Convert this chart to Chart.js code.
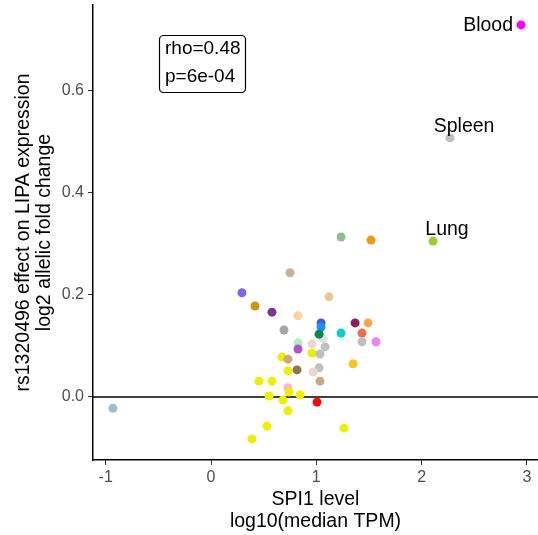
<!DOCTYPE html>
<html>
<head>
<meta charset="utf-8">
<script src="https://cdn.jsdelivr.net/npm/chart.js@4.4.1/dist/chart.umd.min.js"></script>
<style>
  html, body { margin: 0; padding: 0; background: #fff; }
  canvas { display: block; }
</style>
</head>
<body>
<canvas id="spiChart" width="538" height="535"></canvas>
<script>
// SPI1 level (log10 median TPM) per tissue
const spiLevel = [
  2.944, 2.270, 2.108, 1.235, 1.519, 0.750, 0.294, 0.418, 0.579, 1.121,
  0.826, 0.693, 1.045, 1.045, 1.064, 1.026, 1.235, 1.368, 1.491, 1.434,
  1.434, 1.567, 0.826, 0.826, 0.959, 1.083, 0.959, 1.035, 0.674, 0.731,
  0.731, 0.817, 1.026, 0.969, 1.349, 1.035, 0.456, 0.579, 0.731, 0.741,
  0.551, 0.845, 0.684, 1.007, 0.731, 0.532, 0.389, 1.263, -0.931
];
// rs1320496 effect (log2 allelic fold change)
const alleleEffect = [
  0.728, 0.507, 0.305, 0.313, 0.307, 0.243, 0.204, 0.178, 0.166, 0.196,
  0.159, 0.131, 0.145, 0.137, 0.115, 0.123, 0.125, 0.145, 0.145, 0.125,
  0.108, 0.108, 0.106, 0.094, 0.104, 0.098, 0.086, 0.084, 0.078, 0.074,
  0.051, 0.053, 0.057, 0.049, 0.065, 0.031, 0.031, 0.031, 0.018, 0.010,
  0.002, 0.004, -0.006, -0.010, -0.027, -0.057, -0.082, -0.061, -0.022
];
// tissue colours
const tissueColors = [
  '#FF00FF', '#BEBEBE', '#9ACD32', '#8FBC8F', '#EE9A00', '#CDAF95', '#7B68EE', '#CD950C', '#7A378B', '#EEC591',
  '#FFD39B', '#A6A6A6', '#3A5FCD', '#1E90FF', '#E0E0E0', '#008B45', '#00CED1', '#8B1C62', '#FFA54F', '#EE6A50',
  '#BEBEBE', '#EE82EE', '#B4EEB4', '#B452CD', '#EED5D2', '#C0C0C0', '#EEEE00', '#C0C0C0', '#EEEE00', '#CDAA7D',
  '#EEEE00', '#8B7355', '#C0C0C0', '#EED5D2', '#FFC125', '#CDAA7D', '#EEEE00', '#EEEE00', '#FFB6C1', '#EEEE00',
  '#EEEE00', '#EEEE00', '#EEEE00', '#FF0000', '#EEEE00', '#EEEE00', '#EEEE00', '#EEEE00', '#9AC0CD'
];

// labelled tissues (index into the arrays above)
const labelNames = ['Blood', 'Spleen', 'Lung'];
const labelIndex = [0, 1, 2];

const xTicks = [-1, 0, 1, 2, 3];
const yTicks = [0.0, 0.2, 0.4, 0.6];
const statLines = ['rho=0.48', 'p=6e-04'];

const FONT = '"Liberation Sans", Arial, Helvetica, sans-serif';

// horizontal line at y = 0, under the points
const zeroLine = {
  id: 'zeroLine',
  beforeDatasetsDraw(chart) {
    const { ctx, chartArea, scales } = chart;
    const y = scales.y.getPixelForValue(0);
    ctx.save();
    ctx.strokeStyle = '#000';
    ctx.lineWidth = 1.5;
    ctx.beginPath();
    ctx.moveTo(chartArea.left, y);
    ctx.lineTo(chartArea.right, y);
    ctx.stroke();
    ctx.restore();
  }
};

// tissue names next to points + correlation box
const textLayer = {
  id: 'textLayer',
  afterDatasetsDraw(chart) {
    const { ctx, scales } = chart;
    ctx.save();
    ctx.font = '19.5px ' + FONT;
    ctx.fillStyle = '#000';
    ctx.textBaseline = 'middle';
    labelIndex.forEach((idx, i) => {
      const px = scales.x.getPixelForValue(spiLevel[idx]);
      const py = scales.y.getPixelForValue(alleleEffect[idx]);
      if (i === 0) {
        ctx.textAlign = 'right';
        ctx.fillText(labelNames[i], px - 8, py + 1);
      } else {
        ctx.textAlign = 'center';
        ctx.fillText(labelNames[i], px + 14, py - 11);
      }
    });

    // stats box
    ctx.strokeStyle = '#000';
    ctx.lineWidth = 1.2;
    ctx.beginPath();
    ctx.roundRect(159.5, 35.5, 86, 57, 4);
    ctx.stroke();
    ctx.textAlign = 'left';
    ctx.font = '19px ' + FONT;
    ctx.fillText(statLines[0], 165, 49);
    ctx.fillText(statLines[1], 165, 77);
    ctx.restore();
  }
};

// no extra room for edge tick labels
function noEdgePadding(scale) {
  scale.paddingTop = 0;
  scale.paddingBottom = 0;
  scale.paddingLeft = 0;
  scale.paddingRight = 0;
}

const ctx = document.getElementById('spiChart').getContext('2d');
new Chart(ctx, {
  type: 'scatter',
  data: {
    datasets: [{
      data: spiLevel.map((x, i) => ({ x: x, y: alleleEffect[i] })),
      backgroundColor: tissueColors,
      borderWidth: 0,
      pointRadius: 4.5,
      pointHoverRadius: 4.5
    }]
  },
  options: {
    responsive: false,
    animation: false,
    layout: { autoPadding: false, padding: { top: 5, right: 0, left: 0, bottom: 0 } },
    plugins: {
      legend: { display: false },
      tooltip: { enabled: false }
    },
    scales: {
      x: {
        type: 'linear',
        min: -1.1206,
        max: 3.105,
        afterFit(scale) { scale.height = 75; noEdgePadding(scale); },
        afterBuildTicks(scale) { scale.ticks = xTicks.map(v => ({ value: v })); },
        border: { display: true, color: '#000', width: 1.5 },
        grid: { drawOnChartArea: false, drawTicks: true, tickLength: 5, tickColor: '#333', tickWidth: 1 },
        ticks: {
          color: '#4D4D4D',
          padding: 3,
          font: { family: FONT, size: 16 },
          callback: v => String(v)
        },
        title: {
          display: true,
          text: ['SPI1 level', 'log10(median TPM)'],
          color: '#000',
          font: { family: FONT, size: 19.5, lineHeight: '22px' },
          padding: { top: 0, bottom: 2 }
        }
      },
      y: {
        type: 'linear',
        min: -0.1233,
        max: 0.767,
        afterFit(scale) { scale.width = 93; noEdgePadding(scale); },
        afterBuildTicks(scale) { scale.ticks = yTicks.map(v => ({ value: v })); },
        border: { display: true, color: '#000', width: 1.5 },
        grid: { drawOnChartArea: false, drawTicks: true, tickLength: 5, tickColor: '#333', tickWidth: 1 },
        ticks: {
          color: '#4D4D4D',
          padding: 4,
          font: { family: FONT, size: 16 },
          callback: v => v.toFixed(1)
        },
        title: {
          display: true,
          text: ['rs1320496 effect on LIPA expression', 'log2 allelic fold change'],
          color: '#000',
          font: { family: FONT, size: 19.5, lineHeight: '21px' },
          padding: { top: 13, bottom: 0 }
        }
      }
    }
  },
  plugins: [zeroLine, textLayer]
});
</script>
</body>
</html>
